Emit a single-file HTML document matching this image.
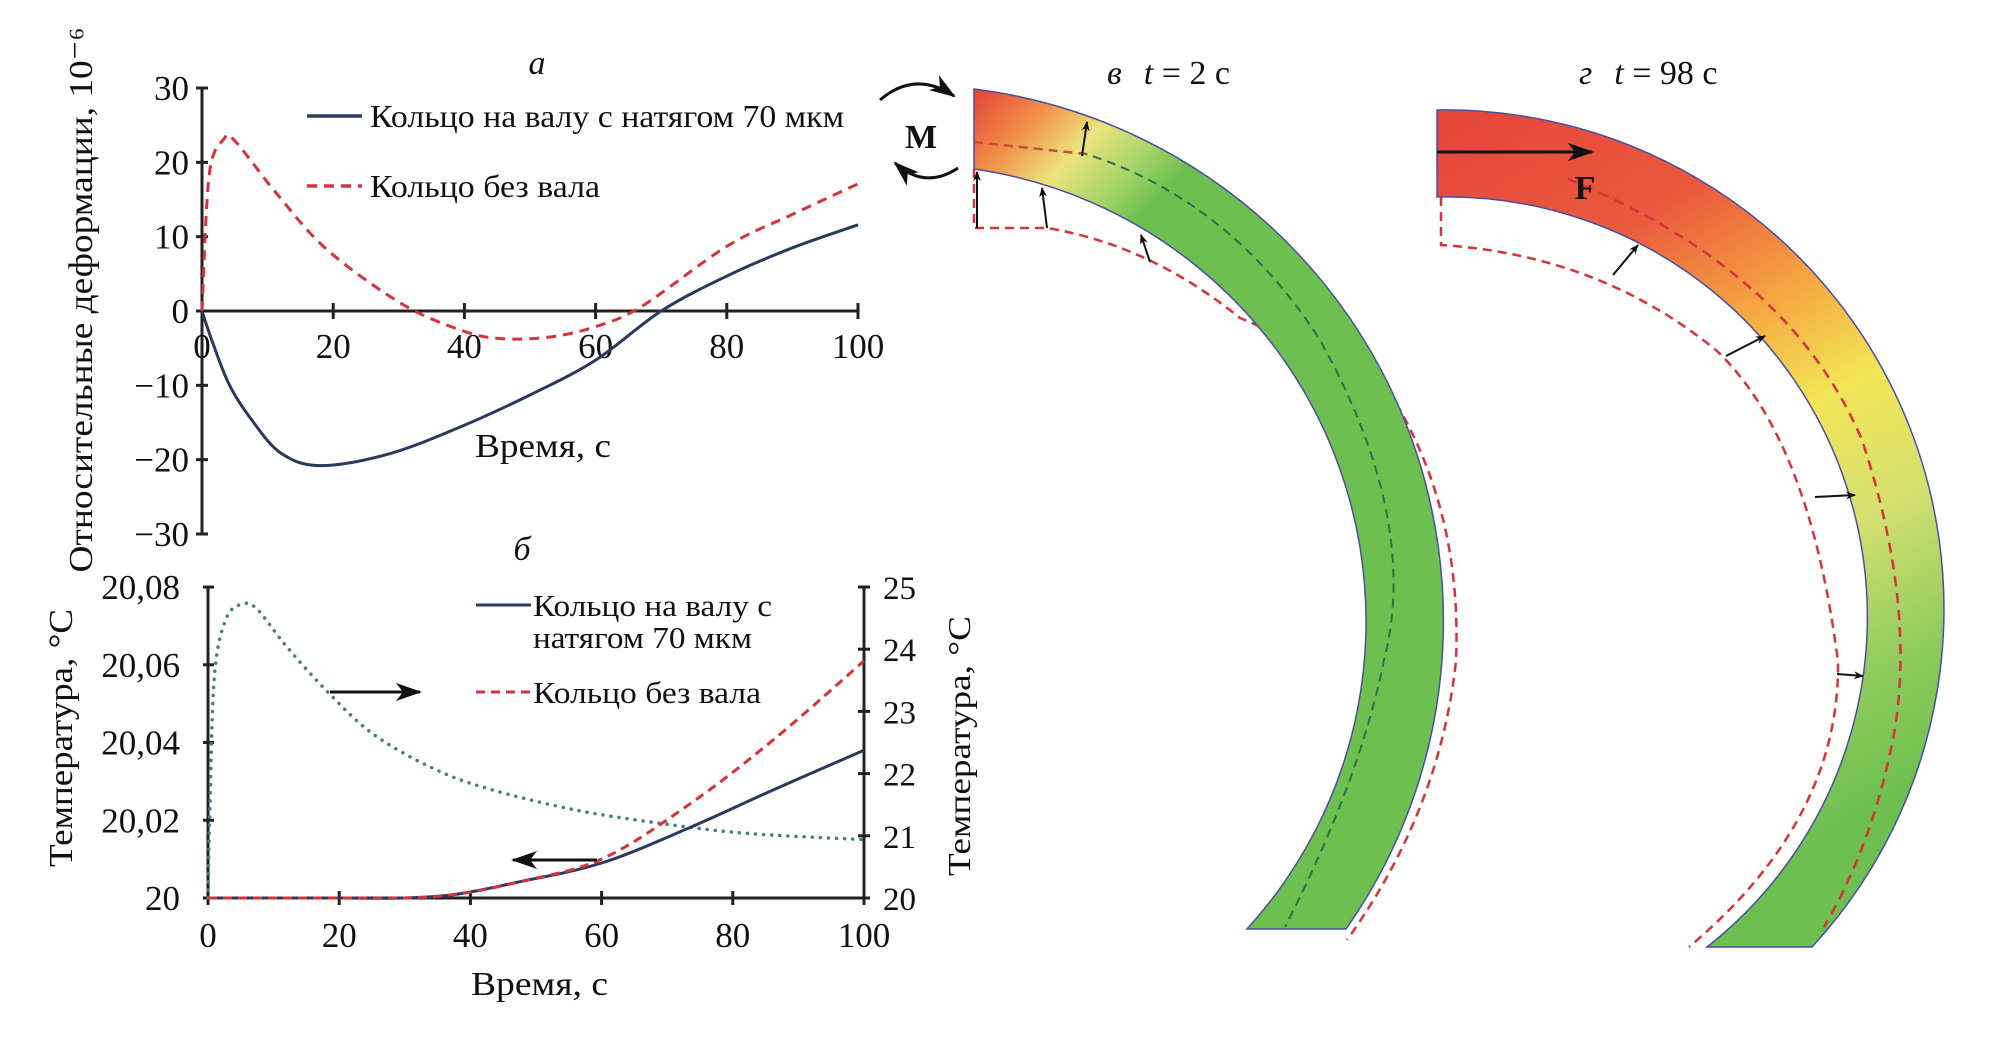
<!DOCTYPE html>
<html><head><meta charset="utf-8"><style>
html,body{margin:0;padding:0;background:#fff;}
svg{display:block;}
text{font-family:"Liberation Serif","DejaVu Serif",serif;fill:#111;}
</style></head><body>
<svg id="fig" width="1993" height="1038" viewBox="0 0 1993 1038" xmlns="http://www.w3.org/2000/svg">
<defs>
<linearGradient id="gradV" gradientUnits="userSpaceOnUse" x1="974" y1="95" x2="1125" y2="235">
<stop offset="0" stop-color="#e6453a"/><stop offset="0.3" stop-color="#f1934a"/><stop offset="0.55" stop-color="#ece47c"/><stop offset="0.8" stop-color="#a7d46a"/><stop offset="1" stop-color="#6dbf4f"/>
</linearGradient>
<linearGradient id="gradG" gradientUnits="userSpaceOnUse" x1="1470" y1="110" x2="1860" y2="820">
<stop offset="0" stop-color="#e6453a"/><stop offset="0.22" stop-color="#ea5a3e"/><stop offset="0.38" stop-color="#f4a542"/><stop offset="0.52" stop-color="#f3e556"/><stop offset="0.68" stop-color="#d3e070"/><stop offset="0.85" stop-color="#8fcb5d"/><stop offset="1" stop-color="#6dbf4f"/>
</linearGradient>
<marker id="ah" markerWidth="10" markerHeight="8" refX="9" refY="4" orient="auto" markerUnits="userSpaceOnUse"><path d="M0,0 L10,4 L0,8 L3,4 Z" fill="#111"/></marker>
<marker id="ahBig" markerWidth="26" markerHeight="18" refX="24" refY="9" orient="auto" markerUnits="userSpaceOnUse"><path d="M0,0 L26,9 L0,18 L7,9 Z" fill="#111"/></marker>
</defs>

<!-- ===== Chart A ===== -->
<g id="chartA"></g>
<text x="537" y="74" font-size="34" font-style="italic" text-anchor="middle">а</text>
<text transform="translate(92,300) rotate(-90)" font-size="34" text-anchor="middle" textLength="545" lengthAdjust="spacingAndGlyphs">Относительные деформации, 10⁻⁶</text>
<text x="475" y="457" font-size="34" textLength="136" lengthAdjust="spacingAndGlyphs">Время, с</text>
<g>
<line x1="307" y1="116" x2="362" y2="116" stroke="#2b3a5c" stroke-width="3.5"/>
<text x="370" y="127" font-size="32" textLength="474" lengthAdjust="spacingAndGlyphs">Кольцо на валу с натягом 70 мкм</text>
<line x1="307" y1="186" x2="362" y2="186" stroke="#d6323c" stroke-width="3.5" stroke-dasharray="10,7"/>
<text x="370" y="197" font-size="32" textLength="230" lengthAdjust="spacingAndGlyphs">Кольцо без вала</text>
</g>

<!-- ===== Chart B ===== -->
<g id="chartB"></g>
<text x="522" y="560" font-size="34" font-style="italic" text-anchor="middle">б</text>
<text transform="translate(72,738) rotate(-90)" font-size="34" text-anchor="middle" textLength="258" lengthAdjust="spacingAndGlyphs">Температура, °С</text>
<text transform="translate(970,746) rotate(-90)" font-size="32" text-anchor="middle" textLength="260" lengthAdjust="spacingAndGlyphs">Температура, °С</text>
<text x="471" y="995" font-size="34" textLength="137" lengthAdjust="spacingAndGlyphs">Время, с</text>
<g>
<line x1="476" y1="605" x2="531" y2="605" stroke="#2b3a5c" stroke-width="3"/>
<text x="533" y="616" font-size="31" textLength="239" lengthAdjust="spacingAndGlyphs">Кольцо на валу с</text>
<text x="533" y="648" font-size="31" textLength="219" lengthAdjust="spacingAndGlyphs">натягом 70 мкм</text>
<line x1="476" y1="692" x2="531" y2="692" stroke="#d6323c" stroke-width="3" stroke-dasharray="9,6"/>
<text x="533" y="703" font-size="31" textLength="228" lengthAdjust="spacingAndGlyphs">Кольцо без вала</text>
</g>
<line x1="330" y1="692" x2="420" y2="692" stroke="#111" stroke-width="3" marker-end="url(#ahBig)"/>
<line x1="597" y1="860" x2="513" y2="860" stroke="#111" stroke-width="3" marker-end="url(#ahBig)"/>

<!-- ===== Ring в ===== -->
<g>
<text x="1107" y="84" font-size="34"><tspan font-style="italic">в</tspan><tspan dx="22" font-style="italic">t</tspan> = 2 с</text>
<path d="M974,169 L974,228 L1047,228 Q1150,245 1240,318 Q1330,355 1400,410 Q1462,520 1456,661 Q1440,810 1347,940" fill="none" stroke="#d6323c" stroke-width="2.5" stroke-dasharray="9,6"/>
<path d="M974,89 A536,536 0 0 1 1346,929 L1247,929 A457,457 0 0 0 974,169 Z" fill="url(#gradV)" stroke="#4a4fa0" stroke-width="1.5"/>
<path d="M974,142 L1086,154 Q1230,200 1320,340 Q1420,520 1384,660 Q1360,780 1285,927" fill="none" stroke="#2f6f4a" stroke-width="2" stroke-dasharray="9,6"/>
<path d="M974,142 L1086,154" fill="none" stroke="#c8503a" stroke-width="2.5" stroke-dasharray="9,6"/>
<line x1="1082" y1="156" x2="1087" y2="122" stroke="#111" stroke-width="2" marker-end="url(#ah)"/>
<line x1="977" y1="228" x2="977" y2="172" stroke="#111" stroke-width="2" marker-end="url(#ah)"/>
<line x1="1047" y1="228" x2="1042" y2="188" stroke="#111" stroke-width="2" marker-end="url(#ah)"/>
<line x1="1150" y1="262" x2="1141" y2="235" stroke="#111" stroke-width="2" marker-end="url(#ah)"/>
<path d="M880,100 Q915,70 954,96" fill="none" stroke="#111" stroke-width="3" marker-end="url(#ahBig)"/>
<path d="M958,168 Q925,190 895,163" fill="none" stroke="#111" stroke-width="3" marker-end="url(#ahBig)"/>
<text x="921" y="148" font-size="34" font-weight="bold" text-anchor="middle">M</text>
</g>

<!-- ===== Ring г ===== -->
<g>
<text x="1579" y="84" font-size="34"><tspan font-style="italic">г</tspan><tspan dx="22" font-style="italic">t</tspan> = 98 с</text>
<path d="M1441,197 L1441,245 Q1600,255 1717,351 Q1810,440 1838,662 Q1840,820 1689,947" fill="none" stroke="#d6323c" stroke-width="2.5" stroke-dasharray="9,6"/>
<path d="M1437,110 A499,499 0 0 1 1812,947 L1707,947 A420,420 0 0 0 1437,197 Z" fill="url(#gradG)" stroke="#4a4fa0" stroke-width="1.5"/>
<path d="M1568,179 Q1790,270 1862,440 Q1915,600 1895,728 Q1875,840 1824,927" fill="none" stroke="#d6323c" stroke-width="2.5" stroke-dasharray="10,7"/>
<line x1="1437" y1="152" x2="1592" y2="152" stroke="#111" stroke-width="3" marker-end="url(#ahBig)"/>
<text x="1585" y="199" font-size="34" font-weight="bold" text-anchor="middle">F</text>
<line x1="1613" y1="275" x2="1638" y2="245" stroke="#111" stroke-width="2" marker-end="url(#ah)"/>
<line x1="1726" y1="356" x2="1765" y2="336" stroke="#111" stroke-width="2" marker-end="url(#ah)"/>
<line x1="1815" y1="497" x2="1855" y2="495" stroke="#111" stroke-width="2" marker-end="url(#ah)"/>
<line x1="1837" y1="674" x2="1863" y2="676" stroke="#111" stroke-width="2" marker-end="url(#ah)"/>
</g>
</svg>

<script>
// ---- Chart A data ----
const tA = [0, 1.6, 4.2, 7.7, 12, 17.8, 27.8, 38.3, 50, 60, 70, 80, 90, 100];
const strainShaft = [0, -4.2, -10, -14.8, -19.1, -20.8, -19.4, -16, -11.3, -6.6, 0, 4.7, 8.5, 11.6];
const tAfree = [0, 1.1, 3.3, 5, 11.2, 19, 30.4, 39.2, 45.3, 53, 60, 67, 80, 90, 100];
const strainFree = [0, 18.3, 23.1, 22.9, 16, 8.3, 1, -2.5, -3.7, -3.5, -2.1, 0.6, 8.7, 13, 17.1];
const xTicksA = [0, 20, 40, 60, 80, 100];
const yTicksA = [30, 20, 10, 0, -10, -20, -30];
const yTickLabelsA = ["30", "20", "10", "0", "\u221210", "\u221220", "\u221230"];
// ---- Chart B data ----
const tB = [0, 10, 20, 30, 38, 47, 60, 73.3, 86.4, 100];
const tempShaft = [20, 20, 20, 20, 20.001, 20.004, 20.009, 20.018, 20.028, 20.038];
const tempFree = [20, 20, 20, 20, 20.001, 20.004, 20.010, 20.024, 20.041, 20.061];
const tDot = [0, 0.3, 1, 2.8, 5.4, 7.6, 12, 18, 25, 34, 42.6, 55.8, 69, 82, 99.6];
const tempRight = [20, 21.5, 23.6, 24.5, 24.73, 24.63, 24.04, 23.34, 22.65, 22.1, 21.76, 21.42, 21.2, 21.04, 20.94];
const xTicksB = [0, 20, 40, 60, 80, 100];
const yTicksBLeft = [20, 20.02, 20.04, 20.06, 20.08];
const yTickLabelsBLeft = ["20", "20,02", "20,04", "20,06", "20,08"];
const yTicksBRight = [20, 21, 22, 23, 24, 25];

const NS = "http://www.w3.org/2000/svg";
function mk(tag, attrs, parent) {
  const e = document.createElementNS(NS, tag);
  for (const k in attrs) e.setAttribute(k, attrs[k]);
  parent.appendChild(e);
  return e;
}
function pathFrom(xs, ys, fx, fy) {
  const P = xs.map((x, i) => [fx(x), fy(ys[i])]);
  let d = "M" + P[0][0].toFixed(1) + "," + P[0][1].toFixed(1);
  for (let i = 0; i < P.length - 1; i++) {
    const p0 = P[Math.max(0, i - 1)], p1 = P[i], p2 = P[i + 1], p3 = P[Math.min(P.length - 1, i + 2)];
    const c1 = [p1[0] + (p2[0] - p0[0]) / 6, p1[1] + (p2[1] - p0[1]) / 6];
    const c2 = [p2[0] - (p3[0] - p1[0]) / 6, p2[1] - (p3[1] - p1[1]) / 6];
    d += " C" + c1.map(v => v.toFixed(1)).join(",") + " " + c2.map(v => v.toFixed(1)).join(",") + " " + p2.map(v => v.toFixed(1)).join(",");
  }
  return d;
}

// ---- Chart A ----
(function () {
  const g = document.getElementById("chartA");
  const xA = t => 202 + t * 6.56;
  const yA = v => 311 - v * 7.433;
  let e;
  e = mk("line", { x1: 202, y1: yA(30), x2: 202, y2: yA(-30), stroke: "#222", "stroke-width": 3 }, g);
  
  
  e = mk("line", { x1: 202, y1: yA(0), x2: 858, y2: yA(0), stroke: "#222", "stroke-width": 3 }, g);
  
  
  yTicksA.forEach((v, i) => {
    e = mk("line", { x1: 196, y1: yA(v), x2: 208, y2: yA(v), stroke: "#222", "stroke-width": 3 }, g);
    
    
    e = mk("text", { x: 189, y: yA(v) + 12, "font-size": 35, "text-anchor": "end" }, g);
    e.textContent = yTickLabelsA[i];
    
    
  });
  xTicksA.forEach(t => {
    e = mk("line", { x1: xA(t), y1: yA(0) - 8, x2: xA(t), y2: yA(0) + 8, stroke: "#222", "stroke-width": 3 }, g);
    
    
    e = mk("text", { x: xA(t), y: 358, "font-size": 35, "text-anchor": "middle" }, g);
    e.textContent = String(t);
    
    
  });
  e = mk("path", { d: pathFrom(tAfree, strainFree, xA, yA), fill: "none", stroke: "#d6323c", "stroke-width": 3, "stroke-dasharray": "10,7" }, g);
  
  
  e = mk("path", { d: pathFrom(tA, strainShaft, xA, yA), fill: "none", stroke: "#2b3a5c", "stroke-width": 3 }, g);
  
  
})();

// ---- Chart B ----
(function () {
  const g = document.getElementById("chartB");
  const xB = t => 208 + t * 6.56;
  const yL = v => 898 - (v - 20) * 3887;
  const yR = v => 898 - (v - 20) * 62.2;
  let e;
  e = mk("line", { x1: 208, y1: 587, x2: 208, y2: 898, stroke: "#222", "stroke-width": 3 }, g);
  
  
  e = mk("line", { x1: 864, y1: 587, x2: 864, y2: 898, stroke: "#222", "stroke-width": 3 }, g);
  
  
  e = mk("line", { x1: 208, y1: 898, x2: 864, y2: 898, stroke: "#222", "stroke-width": 3 }, g);
  
  
  yTicksBLeft.forEach((v, i) => {
    e = mk("line", { x1: 203, y1: yL(v), x2: 214, y2: yL(v), stroke: "#222", "stroke-width": 3 }, g);
    
    
    e = mk("text", { x: 180, y: yL(v) + 12, "font-size": 35, "text-anchor": "end" }, g);
    e.textContent = yTickLabelsBLeft[i];
    
    
  });
  yTicksBRight.forEach(v => {
    e = mk("line", { x1: 858, y1: yR(v), x2: 870, y2: yR(v), stroke: "#222", "stroke-width": 3 }, g);
    
    
    e = mk("text", { x: 883, y: yR(v) + 12, "font-size": 33 }, g);
    e.textContent = String(v);
    
    
  });
  xTicksB.forEach(t => {
    e = mk("line", { x1: xB(t), y1: 891, x2: xB(t), y2: 905, stroke: "#222", "stroke-width": 3 }, g);
    
    
    e = mk("text", { x: xB(t), y: 947, "font-size": 35, "text-anchor": "middle" }, g);
    e.textContent = String(t);
    
    
  });
  e = mk("path", { d: pathFrom(tDot, tempRight, xB, yR), fill: "none", stroke: "#4a7d82", "stroke-width": 3.5, "stroke-dasharray": "0.1,8", "stroke-linecap": "round" }, g);
  
  
  e = mk("path", { d: pathFrom(tB, tempShaft, xB, yL), fill: "none", stroke: "#2b3a5c", "stroke-width": 3 }, g);
  
  
  e = mk("path", { d: pathFrom(tB, tempFree, xB, yL), fill: "none", stroke: "#d6323c", "stroke-width": 3, "stroke-dasharray": "9,6" }, g);
  
  
})();
</script>
</body></html>
